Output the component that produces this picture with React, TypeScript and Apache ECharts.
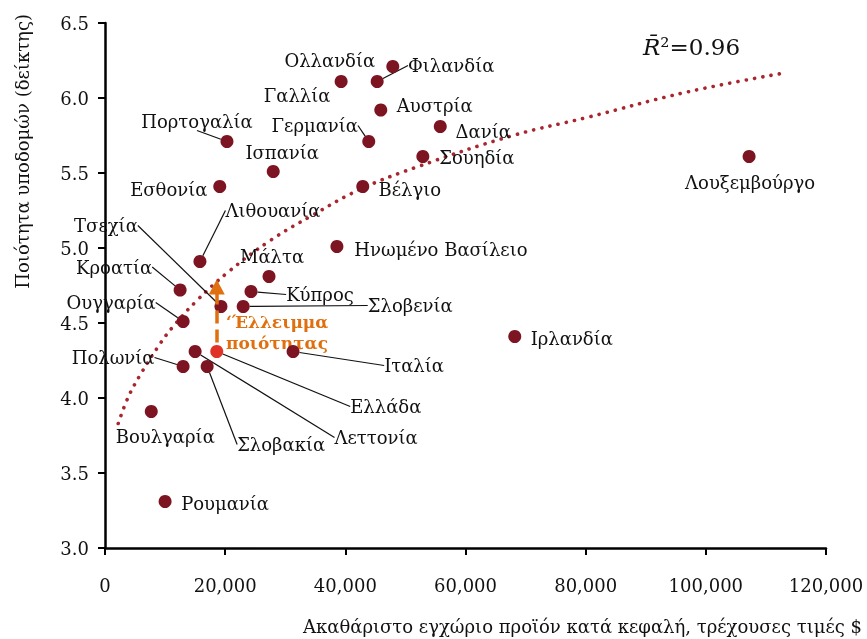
import React, { useEffect, useRef } from "react";
import * as echarts from "echarts";

// ---- Data ----
const countries = [
  "Ολλανδία", "Φιλανδία", "Γαλλία", "Αυστρία", "Δανία", "Γερμανία", "Σουηδία",
  "Πορτογαλία", "Ισπανία", "Βέλγιο", "Εσθονία", "Λιθουανία", "Ηνωμένο Βασίλειο",
  "Μάλτα", "Κύπρος", "Σλοβενία", "Τσεχία", "Κροατία", "Ουγγαρία", "Πολωνία",
  "Λεττονία", "Σλοβακία", "Ελλάδα", "Ιταλία", "Βουλγαρία", "Ρουμανία",
  "Ιρλανδία", "Λουξεμβούργο",
];
const gdpPerCapita = [
  47900, 45300, 39300, 45900, 55800, 43900, 52900,
  20300, 28000, 42900, 19100, 15800, 38600,
  27300, 24300, 23000, 19300, 12500, 13000, 13000,
  15000, 17000, 18600, 31300, 7700, 10000,
  68200, 107200,
];
const infraQuality = [
  6.21, 6.11, 6.11, 5.92, 5.81, 5.71, 5.61,
  5.71, 5.51, 5.41, 5.41, 4.91, 5.01,
  4.81, 4.71, 4.61, 4.61, 4.72, 4.51, 4.21,
  4.31, 4.21, 4.31, 4.31, 3.91, 3.31,
  4.41, 5.61,
];
// trend line (dotted)
const trendGdp = [2200, 3800, 5800, 8800, 11200, 15300, 20500, 27500, 34600, 42400, 51900, 67900, 80200, 96900, 113500];
const trendQuality = [3.83, 4.0, 4.15, 4.34, 4.47, 4.65, 4.84, 5.05, 5.22, 5.39, 5.54, 5.75, 5.87, 6.04, 6.17];

const highlightCountry = "Ελλάδα";
const qualityGapEnd = 4.74; // arrow end on the trend line
const qualityGapStart = 4.37;
const r2Text = "=0.96";
const gapLabel = "‘Έλλειμμα\nποιότητας";
const xAxisTitle = "Ακαθάριστο εγχώριο προϊόν κατά κεφαλή, τρέχουσες τιμές $";
const yAxisTitle = "Ποιότητα υποδομών (δείκτης)";

// ---- Label placement (pixel offsets from each dot), styling only ----
const labelOffsets: Record<string, [number, number, boolean]> = {
  "Ολλανδία": [-63, -6, false],
  "Φιλανδία": [74, -16, true],
  "Γαλλία": [-44, 14, false],
  "Αυστρία": [54, -5, false],
  "Δανία": [43, 5, false],
  "Γερμανία": [-54, -16, true],
  "Σουηδία": [54, 1, false],
  "Πορτογαλία": [-30, -20, true],
  "Ισπανία": [9, -19, false],
  "Βέλγιο": [47, 3, false],
  "Εσθονία": [-51, 3, false],
  "Λιθουανία": [73, -51, true],
  "Ηνωμένο Βασίλειο": [104, 3, false],
  "Μάλτα": [3, -20, false],
  "Κύπρος": [69, 3, true],
  "Σλοβενία": [167, -1, true],
  "Τσεχία": [-115, -81, true],
  "Κροατία": [-66, -23, true],
  "Ουγγαρία": [-72, -19, true],
  "Πολωνία": [-70, -9, true],
  "Λεττονία": [181, 86, true],
  "Σλοβακία": [74, 78, true],
  "Ελλάδα": [169, 55, true],
  "Ιταλία": [121, 14, true],
  "Βουλγαρία": [14, 25, false],
  "Ρουμανία": [60, 2, false],
  "Ιρλανδία": [57, 2, false],
  "Λουξεμβούργο": [1, 26, false],
};

const FONT = "DejaVu Serif";
const TEXT = "#111";
const DOT = "#7d1422";
const GREECE = "#e03325";
const ORANGE = "#e0700f";
const TREND = "#a8262e";

export default function App() {
  const ref = useRef<HTMLDivElement>(null);
  useEffect(() => {
    if (!ref.current) return;
    const chart = echarts.init(ref.current, null, { renderer: "svg" });
    const gi = countries.indexOf(highlightCountry);
    const scatterData = countries.map((c, i) => {
      const o = labelOffsets[c];
      return {
        name: c,
        value: [gdpPerCapita[i], infraQuality[i]],
        itemStyle: { color: c === highlightCountry ? GREECE : DOT, opacity: 1 },
        labelLine: { show: o[2] },
      };
    });
    chart.setOption({
      animation: false,
      grid: { left: 105, right: 41, top: 23, bottom: 91 },
      xAxis: {
        type: "value",
        min: 0,
        max: 120000,
        interval: 20000,
        splitLine: { show: false },
        axisLine: { lineStyle: { color: "#000", width: 2.5 } },
        axisTick: { show: true, length: 7, lineStyle: { color: "#000", width: 2 } },
        axisLabel: {
          margin: 28,
          color: TEXT,
          fontFamily: FONT,
          fontSize: 18,
          formatter: (v: number) => v.toLocaleString("en-US"),
        },
      },
      yAxis: {
        type: "value",
        min: 3,
        max: 6.5,
        interval: 0.5,
        splitLine: { show: false },
        axisLine: { show: true, lineStyle: { color: "#000", width: 2.5 } },
        axisTick: { show: true, length: 7, lineStyle: { color: "#000", width: 2 } },
        axisLabel: {
          margin: 16,
          color: TEXT,
          fontFamily: FONT,
          fontSize: 18,
          formatter: (v: number) => v.toFixed(1),
        },
      },
      series: [
        {
          type: "line",
          data: trendGdp.map((x, i) => [x, trendQuality[i]]),
          smooth: 0.4,
          showSymbol: false,
          silent: true,
          z: 1,
          lineStyle: { color: TREND, width: 3.6, type: [0.1, 8.3], cap: "round" },
        },
        {
          type: "scatter",
          data: scatterData,
          symbolSize: 13,
          z: 3,
          itemStyle: { opacity: 1 },
          label: {
            show: true,
            position: "inside",
            formatter: "{b}",
            color: TEXT,
            fontFamily: FONT,
            fontSize: 18,
            textBorderWidth: 0,
          },
          labelLine: { show: true, lineStyle: { color: "#111", width: 1.2 } },
          labelLayout: (p: any) => {
            const o = labelOffsets[countries[p.dataIndex]];
            return { dx: o[0], dy: o[1] };
          },
          markLine: {
            silent: true,
            symbol: ["none", "triangle"],
            symbolSize: [16, 15],
            label: { show: false },
            lineStyle: { color: ORANGE, width: 3.5, type: [13, 6] },
            data: [
              [
                { coord: [gdpPerCapita[gi], qualityGapStart] },
                { coord: [gdpPerCapita[gi], qualityGapEnd] },
              ],
            ],
          },
        },
      ],
      graphic: [
        {
          type: "text",
          x: 22,
          y: 14,
          rotation: Math.PI / 2,
          style: {
            text: yAxisTitle,
            fontFamily: FONT,
            fontSize: 18,
            fill: TEXT,
            align: "right",
            verticalAlign: "middle",
          },
        },
        {
          type: "text",
          x: 862,
          y: 626,
          style: {
            text: xAxisTitle,
            fontFamily: FONT,
            fontSize: 18,
            fill: TEXT,
            align: "right",
            verticalAlign: "middle",
          },
        },
        {
          type: "text",
          x: 643,
          y: 47,
          style: {
            text: "{r|R\u0304}{n|²" + r2Text + "}",
            verticalAlign: "middle",
            rich: {
              r: { fontFamily: FONT, fontStyle: "italic", fontSize: 23, fill: TEXT },
              n: { fontFamily: FONT, fontSize: 23, fill: TEXT },
            },
          },
        },
        {
          type: "text",
          x: 226,
          y: 332,
          style: {
            text: gapLabel,
            fontFamily: FONT,
            fontWeight: "bold",
            fontSize: 17,
            lineHeight: 21,
            fill: ORANGE,
            align: "left",
            verticalAlign: "middle",
          },
        },
      ],
    });
    return () => chart.dispose();
  }, []);
  return (
    <div
      ref={ref}
      style={{ position: "fixed", left: 0, top: 0, width: 867, height: 639 }}
    />
  );
}
